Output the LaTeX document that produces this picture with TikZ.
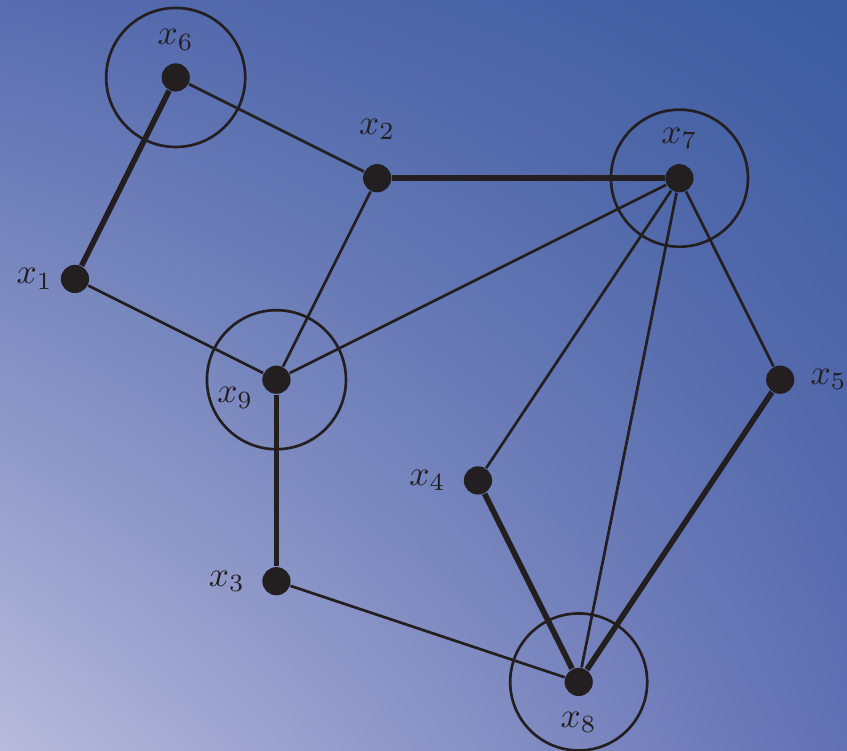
\documentclass[tikz,border=0pt]{standalone}
\usepackage{amsmath}
\usepackage{tikz}
\usetikzlibrary{positioning,shadings}
\usepackage{xcolor}

\definecolor{bgdark}{RGB}{60,92,160}
\definecolor{bglight}{RGB}{184,187,220}
\definecolor{bgmidA}{RGB}{88,108,176}
\definecolor{bgmidB}{RGB}{98,112,180}
\definecolor{ink}{RGB}{35,31,32}

\begin{document}
\begin{tikzpicture}[
    vertex/.style={circle, fill=ink, inner sep=0pt, minimum size=0.28cm},
    lbl/.style={text=ink, font=\normalsize},
    halo/.style={draw=ink, line width=0.75pt},
    thin edge/.style={draw=ink, line width=0.75pt},
    thick edge/.style={draw=ink, line width=1.6pt}
  ]
    % background
    \shade[lower left=bglight, upper right=bgdark, upper left=bgmidA, lower right=bgmidB]
      (-0.744,-0.685) rectangle (7.663,6.769);
    \useasboundingbox (-0.744,-0.685) rectangle (7.663,6.769);

    % vertices
    \node[vertex, label={[lbl, label distance=0cm]90:$x_6$}] (x6) at (1,6) {};
    \node[vertex, label={[lbl, label distance=0.11cm]90:$x_2$}] (x2) at (3,5) {};
    \node[vertex, label={[lbl, label distance=0.02cm]90:$x_7$}] (x7) at (6,5) {};
    \node[vertex, label={[lbl, label distance=-0.05cm]180:$x_1$}] (x1) at (0,4) {};
    \node[vertex, label={[lbl, anchor=center, label distance=0.30cm]204:$x_9$}] (x9) at (2,3) {};
    \node[vertex, label={[lbl, label distance=0.03cm]0:$x_5$}] (x5) at (7,3) {};
    \node[vertex, label={[lbl, label distance=0.05cm]180:$x_4$}] (x4) at (4,2) {};
    \node[vertex, label={[lbl, label distance=0.04cm]180:$x_3$}] (x3) at (2,1) {};
    \node[vertex, label={[lbl, label distance=0.03cm]270:$x_8$}] (x8) at (5,0) {};

    % circles
    \draw[halo] (x6) circle (0.69);
    \draw[halo] (x7) circle (0.68);
    \draw[halo] (x9) circle (0.69);
    \draw[halo] (x8) circle (0.68);

    % edges
    \draw[thin edge] (x6) -- (x2);
    \draw[thin edge] (x1) -- (x9);
    \draw[thin edge] (x2) -- (x9);
    \draw[thin edge] (x9) -- (x7);
    \draw[thin edge] (x7) -- (x4);
    \draw[thin edge] (x7) -- (x8);
    \draw[thin edge] (x7) -- (x5);
    \draw[thin edge] (x3) -- (x8);
    \draw[thick edge] (x6) -- (x1);
    \draw[thick edge] (x2) -- (x7);
    \draw[thick edge] (x9) -- (x3);
    \draw[thick edge] (x4) -- (x8);
    \draw[thick edge] (x5) -- (x8);
  \end{tikzpicture}
\end{document}
